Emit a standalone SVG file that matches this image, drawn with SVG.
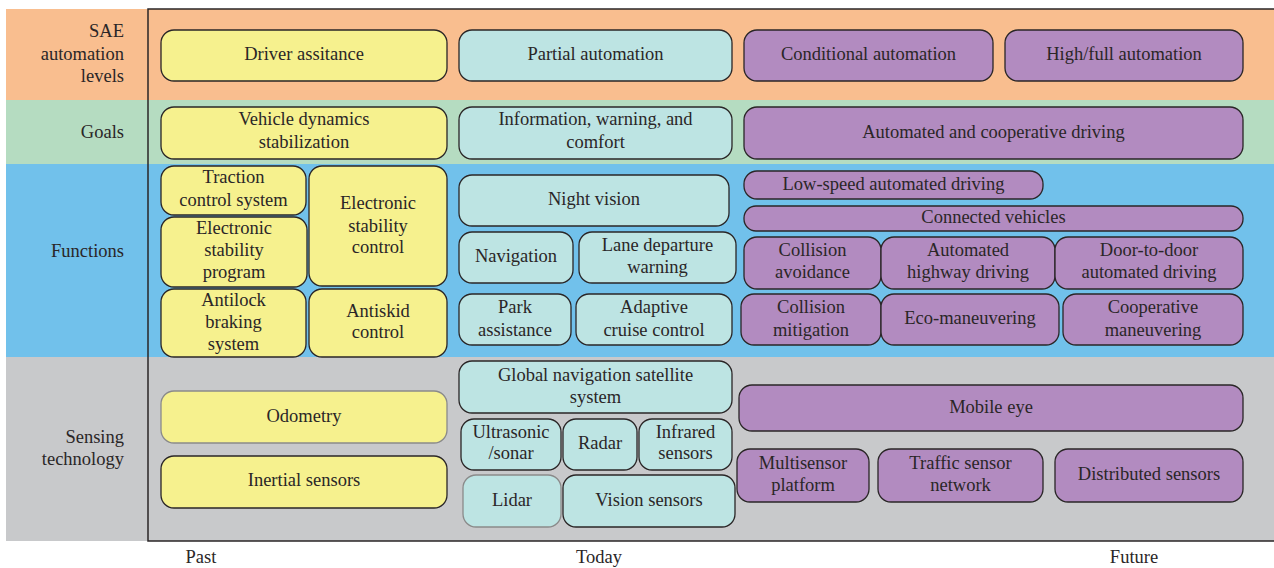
<svg xmlns="http://www.w3.org/2000/svg" width="1274" height="568" viewBox="0 0 1274 568">
<style>
text{font-family:"Liberation Serif","DejaVu Serif",serif;font-size:18.5px;fill:#2a2627;text-anchor:middle}
.lab{text-anchor:end}
.b rect{stroke:#2a2627;stroke-width:1.3}
.y rect{fill:#F6F18E}
.c rect{fill:#BDE4E3}
.p rect{fill:#B28BC0}
.lt rect{stroke:#8a8a8a}
</style>
<rect width="1274" height="568" fill="#ffffff"/>
<g id="bands">
<rect x="6" y="9" width="1268" height="91" fill="#F9BE8F"/>
<rect x="6" y="100" width="1268" height="64" fill="#B5DCC1"/>
<rect x="6" y="164" width="1268" height="193" fill="#71C1EB"/>
<rect x="6" y="357" width="1268" height="184" fill="#C8C9CB"/>
<path d="M1276,9 H148 V541 H1276" fill="none" stroke="#2a2627" stroke-width="1.5"/>
</g>
<g id="row-labels">
<text class="lab" x="124" y="37">SAE</text>
<text class="lab" x="124" y="60">automation</text>
<text class="lab" x="124" y="82">levels</text>
<text class="lab" x="124" y="138">Goals</text>
<text class="lab" x="124" y="257">Functions</text>
<text class="lab" x="124" y="443">Sensing</text>
<text class="lab" x="124" y="465">technology</text>
</g>
<g id="axis">
<text x="201" y="563">Past</text>
<text x="599" y="563">Today</text>
<text x="1134" y="563">Future</text>
</g>
<g id="connectors"></g>

<g id="driver-assistance" class="b y"><rect x="161" y="30" width="286" height="51" rx="13"/><text x="304" y="60">Driver assitance</text></g>
<g id="partial-automation" class="b c"><rect x="459" y="30" width="273" height="51" rx="13"/><text x="595.5" y="60">Partial automation</text></g>
<g id="conditional-automation" class="b p"><rect x="744" y="30" width="249" height="51" rx="13"/><text x="868.5" y="60">Conditional automation</text></g>
<g id="high-full-automation" class="b p"><rect x="1005" y="30" width="238" height="51" rx="13"/><text x="1124" y="60">High/full automation</text></g>

<g id="vehicle-dynamics" class="b y"><rect x="161" y="107" width="286" height="52" rx="13"/><text x="304" y="125">Vehicle dynamics</text><text x="304" y="148">stabilization</text></g>
<g id="information-warning" class="b c"><rect x="459" y="107" width="273" height="52" rx="13"/><text x="595.5" y="125">Information, warning, and</text><text x="595.5" y="148">comfort</text></g>
<g id="automated-cooperative" class="b p"><rect x="744" y="107" width="499" height="52" rx="13"/><text x="993.5" y="138">Automated and cooperative driving</text></g>

<g id="traction-control" class="b y"><rect x="161" y="166" width="145" height="49" rx="13"/><text x="233.5" y="183">Traction</text><text x="233.5" y="206">control system</text></g>
<g id="esp" class="b y"><rect x="161" y="217" width="146" height="70" rx="13"/><text x="234" y="234">Electronic</text><text x="234" y="256">stability</text><text x="234" y="278">program</text></g>
<g id="esc" class="b y"><rect x="309" y="166" width="138" height="120" rx="13"/><text x="378" y="209">Electronic</text><text x="378" y="232">stability</text><text x="378" y="253">control</text></g>
<g id="abs" class="b y"><rect x="161" y="289" width="145" height="68" rx="13"/><text x="233.5" y="306">Antilock</text><text x="233.5" y="328">braking</text><text x="233.5" y="350">system</text></g>
<g id="antiskid" class="b y"><rect x="309" y="289" width="138" height="68" rx="13"/><text x="378" y="317">Antiskid</text><text x="378" y="338">control</text></g>

<g id="night-vision" class="b c"><rect x="459" y="175" width="270" height="51" rx="13"/><text x="594" y="205">Night vision</text></g>
<g id="navigation" class="b c"><rect x="459" y="232" width="114" height="51" rx="13"/><text x="516" y="262">Navigation</text></g>
<g id="lane-departure" class="b c"><rect x="579" y="232" width="157" height="51" rx="13"/><text x="657.5" y="251">Lane departure</text><text x="657.5" y="273">warning</text></g>
<g id="park-assistance" class="b c"><rect x="459" y="294" width="112" height="51" rx="13"/><text x="515" y="313">Park</text><text x="515" y="336">assistance</text></g>
<g id="adaptive-cruise" class="b c"><rect x="576" y="294" width="156" height="51" rx="13"/><text x="654" y="313">Adaptive</text><text x="654" y="336">cruise control</text></g>

<g id="low-speed" class="b p"><rect x="744" y="171" width="299" height="28" rx="13"/><text x="893.5" y="190">Low-speed automated driving</text></g>
<g id="connected-vehicles" class="b p"><rect x="744" y="206" width="499" height="25" rx="12"/><text x="993.5" y="223">Connected vehicles</text></g>
<g id="collision-avoidance" class="b p"><rect x="744" y="237" width="137" height="52" rx="13"/><text x="812.5" y="256">Collision</text><text x="812.5" y="278">avoidance</text></g>
<g id="automated-highway" class="b p"><rect x="881" y="237" width="174" height="52" rx="13"/><text x="968" y="256">Automated</text><text x="968" y="278">highway driving</text></g>
<g id="door-to-door" class="b p"><rect x="1055" y="237" width="188" height="52" rx="13"/><text x="1149" y="256">Door-to-door</text><text x="1149" y="278">automated driving</text></g>
<g id="collision-mitigation" class="b p"><rect x="741" y="294" width="140" height="51" rx="13"/><text x="811" y="313">Collision</text><text x="811" y="336">mitigation</text></g>
<g id="eco-maneuvering" class="b p"><rect x="881" y="294" width="178" height="51" rx="13"/><text x="970" y="324">Eco-maneuvering</text></g>
<g id="cooperative-maneuvering" class="b p"><rect x="1063" y="294" width="180" height="51" rx="13"/><text x="1153" y="313">Cooperative</text><text x="1153" y="336">maneuvering</text></g>

<g id="odometry" class="b y lt"><rect x="161" y="391" width="286" height="52" rx="13"/><text x="304" y="422">Odometry</text></g>
<g id="inertial-sensors" class="b y"><rect x="161" y="456" width="286" height="52" rx="13"/><text x="304" y="486">Inertial sensors</text></g>

<g id="gnss" class="b c"><rect x="459" y="361" width="273" height="52" rx="13"/><text x="595.5" y="381">Global navigation satellite</text><text x="595.5" y="403">system</text></g>
<g id="ultrasonic" class="b c"><rect x="461" y="419" width="100" height="51" rx="13"/><text x="511" y="438">Ultrasonic</text><text x="511" y="459">/sonar</text></g>
<g id="radar" class="b c"><rect x="563" y="419" width="74" height="51" rx="13"/><text x="600" y="449">Radar</text></g>
<g id="infrared" class="b c"><rect x="639" y="419" width="93" height="51" rx="13"/><text x="685.5" y="438">Infrared</text><text x="685.5" y="459">sensors</text></g>
<g id="lidar" class="b c lt"><rect x="463" y="475" width="98" height="52" rx="13"/><text x="512" y="506">Lidar</text></g>
<g id="vision-sensors" class="b c"><rect x="563" y="475" width="172" height="52" rx="13"/><text x="649" y="506">Vision sensors</text></g>

<g id="mobile-eye" class="b p"><rect x="739" y="385" width="504" height="46" rx="13"/><text x="991" y="413">Mobile eye</text></g>
<g id="multisensor" class="b p"><rect x="737" y="449" width="132" height="53" rx="13"/><text x="803" y="469">Multisensor</text><text x="803" y="491">platform</text></g>
<g id="traffic-sensor" class="b p"><rect x="878" y="449" width="165" height="53" rx="13"/><text x="960.5" y="469">Traffic sensor</text><text x="960.5" y="491">network</text></g>
<g id="distributed-sensors" class="b p"><rect x="1055" y="449" width="188" height="53" rx="13"/><text x="1149" y="480">Distributed sensors</text></g>
</svg>
